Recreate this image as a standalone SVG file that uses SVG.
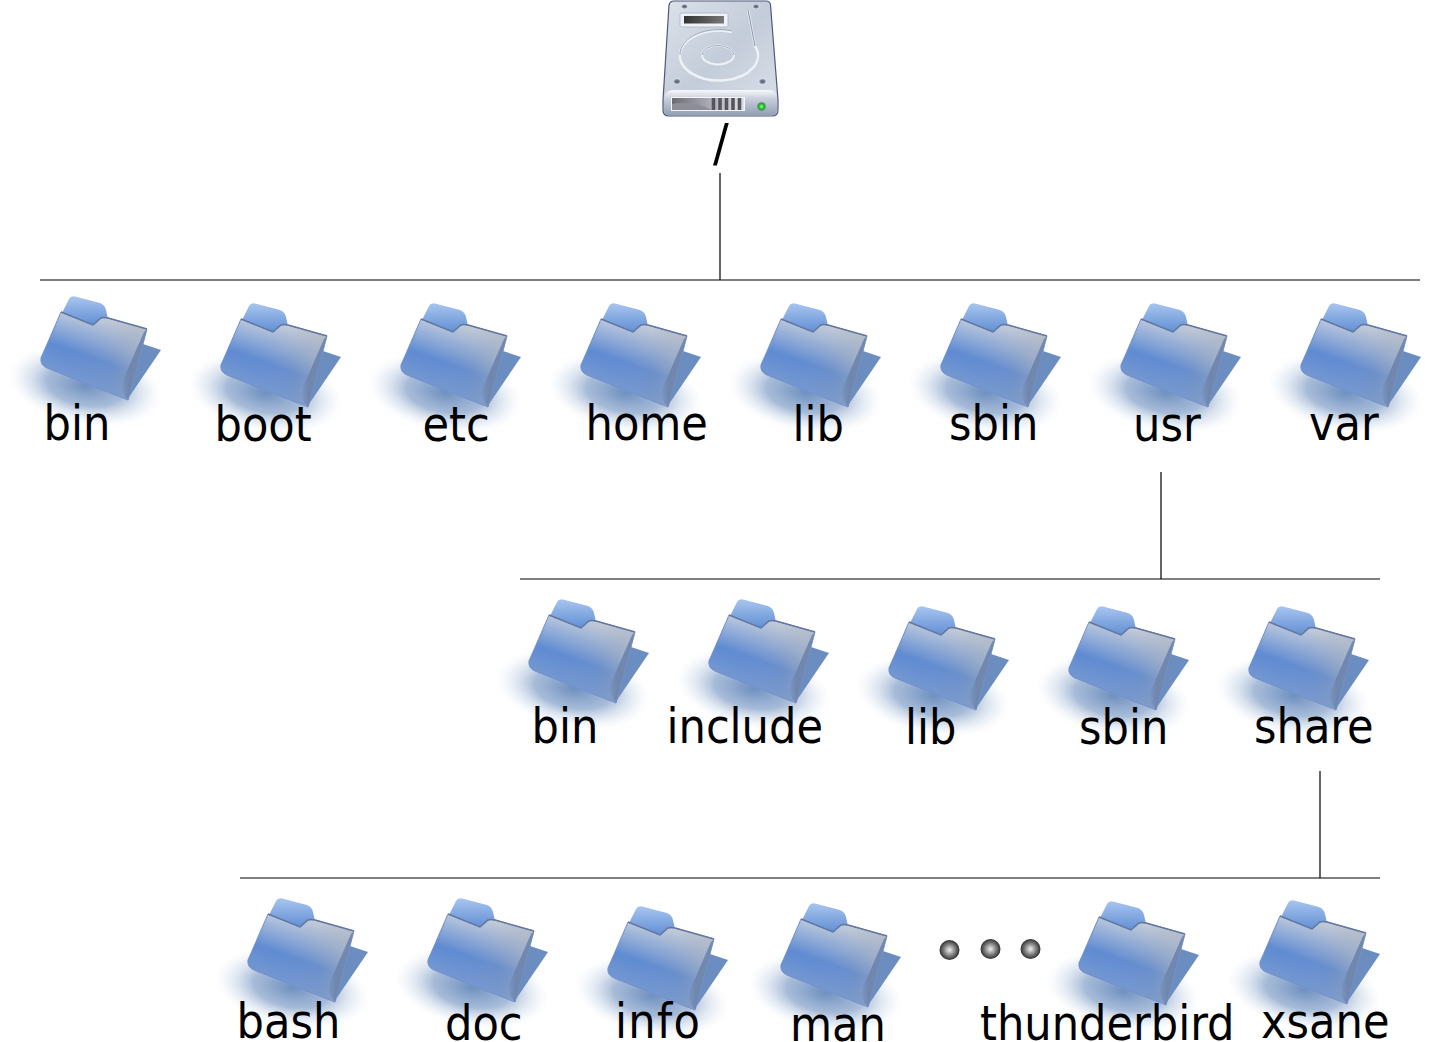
<svg xmlns="http://www.w3.org/2000/svg" xmlns:xlink="http://www.w3.org/1999/xlink" width="1433" height="1042" viewBox="0 0 1433 1042">
<style>
.lbl{font-family:"DejaVu Sans Condensed","DejaVu Sans",sans-serif;font-stretch:condensed;font-size:48px;fill:#000}
.ln{stroke:#000;stroke-width:1.200;fill:none}
</style>
<defs>
<radialGradient id="sh"><stop offset="0" stop-color="#6f90c0" stop-opacity="1"/><stop offset=".5" stop-color="#8aa5cb" stop-opacity=".75"/><stop offset=".78" stop-color="#bccce2" stop-opacity=".35"/><stop offset="1" stop-color="#dde6f1" stop-opacity="0"/></radialGradient>
<linearGradient id="tab" x1="0" y1="0" x2="0" y2="1"><stop offset="0" stop-color="#a8c5ef"/><stop offset="1" stop-color="#5f8dd4"/></linearGradient>
<linearGradient id="front" gradientUnits="userSpaceOnUse" x1="114" y1="320" x2="88" y2="394"><stop offset="0" stop-color="#d6dae0"/><stop offset=".55" stop-color="#5f8bd2"/><stop offset="1" stop-color="#7d9ccf"/></linearGradient>
<linearGradient id="rgt" gradientUnits="userSpaceOnUse" x1="60" y1="0" x2="147" y2="0"><stop offset="0" stop-color="#6b93d6" stop-opacity="0"/><stop offset=".6" stop-color="#8d9db8" stop-opacity=".25"/><stop offset="1" stop-color="#a8b2c2" stop-opacity=".75"/></linearGradient>
<linearGradient id="fold" gradientUnits="userSpaceOnUse" x1="118" y1="0" x2="140" y2="0"><stop offset="0" stop-color="#6f8cba" stop-opacity="0"/><stop offset=".5" stop-color="#6f86ad"/><stop offset="1" stop-color="#7189b0"/></linearGradient>
<linearGradient id="disk" x1="0" y1="0" x2="1" y2="1"><stop offset="0" stop-color="#dde2ea"/><stop offset=".5" stop-color="#c3ccd9"/><stop offset="1" stop-color="#dde2ea"/></linearGradient>
<linearGradient id="band" x1="0" y1="0" x2="0" y2="1"><stop offset="0" stop-color="#f6f8fb"/><stop offset=".35" stop-color="#c8cfdb"/><stop offset="1" stop-color="#949fb5"/></linearGradient>
<linearGradient id="scr" x1="0" y1="0" x2="1" y2="0"><stop offset="0" stop-color="#6b6b70"/><stop offset=".6" stop-color="#b5b5c2"/><stop offset="1" stop-color="#e0e0e8"/></linearGradient>
<linearGradient id="lab" x1="0" y1="0" x2="1" y2="0"><stop offset="0" stop-color="#333"/><stop offset="1" stop-color="#777"/></linearGradient>
<radialGradient id="dot"><stop offset="0" stop-color="#f0f0f0"/><stop offset=".6" stop-color="#7a7a7a"/><stop offset="1" stop-color="#2e2e2e"/></radialGradient>
<radialGradient id="led"><stop offset="0" stop-color="#a5f5a5"/><stop offset=".55" stop-color="#22d022"/><stop offset="1" stop-color="#0b7f1a"/></radialGradient>
<radialGradient id="screw"><stop offset="0" stop-color="#555c6c"/><stop offset=".6" stop-color="#7e8798"/><stop offset="1" stop-color="#e5e9f0"/></radialGradient>
<g id="folder">
<ellipse cx="85" cy="386" rx="78" ry="39" transform="rotate(10 85 386)" fill="url(#sh)"/>
<path d="M143 344L161 350L127 400L118 390Z" fill="#6b8dbf"/>
<path d="M62 313L69 299Q71 295 77 297L100 303Q105 305 106 310L108 319L90 326Z" fill="url(#tab)"/>
<path d="M61 312L93 325L101 318Q103 317 108 318L147 329L128 400L47 368Q40 365 41 358Z" fill="url(#front)" stroke="#6f8fd0" stroke-width="1"/>
<path d="M61 312L93 325L101 318Q103 317 108 318L147 329L128 400L47 368Q40 365 41 358Z" fill="url(#rgt)"/>
<path d="M147 329L128 400Q120 392 123 380L144 332Z" fill="url(#fold)"/>
<path d="M61 312L93 325L101 318Q103 317 108 318L147 329" fill="none" stroke="#64789f" stroke-width="1.500"/>
</g>
</defs>
<rect width="1433" height="1042" fill="#fff"/>
<g id="connectors">
<path class="ln" d="M720 173V280M40 280H1420M1161 472V579M520 579H1380M1320 771V878M240 878H1380"/>
</g>
<g id="root">
<path d="M669 5Q670 1 674 1H766Q770 1 770.500 5L778 100V110Q778 116 772 116H669Q663 116 663 110V100Z" fill="url(#disk)" stroke="#4e5878" stroke-width="1.200"/>
<path d="M664 100Q664.500 90 672 90H770Q776.500 90 777 100V110Q777 115 772 115H669Q664 115 664 110Z" fill="url(#band)"/>
<rect x="671" y="97" width="74" height="14" fill="#f5f6f8"/>
<rect x="672" y="98" width="72" height="12" fill="url(#scr)"/>
<path d="M672 104Q690 100 712 110H672Z" fill="#8d8d95"/>
<path d="M713.500 98v12M720 98v12M726.500 98v12M733 98v12M739.500 98v12" stroke="#55555b" stroke-width="3.600" fill="none"/>
<circle cx="761.500" cy="106.500" r="4" fill="url(#led)" stroke="#8c94a5" stroke-width=".8"/>
<rect x="680" y="13" width="48" height="14" rx="1.500" fill="#eef1f5" stroke="#aab3c4" stroke-width=".8"/>
<rect x="684" y="16" width="40" height="7.500" fill="url(#lab)"/>
<path d="M732 32A39 25 0 1 0 755 46L748 10" fill="none" stroke="#eef1f6" stroke-width="2.500"/>
<path d="M732 31A39 25 0 0 0 680 55" fill="none" stroke="#929db2" stroke-width=".9"/>
<path d="M755 46L748 10" fill="none" stroke="#929db2" stroke-width="1.200"/>
<ellipse cx="718" cy="55" rx="16" ry="9.500" fill="none" stroke="#eef1f6" stroke-width="2"/>
<path d="M702 55A16 9.500 0 0 1 734 55" fill="none" stroke="#8f9bb0" stroke-width=".8"/>
<ellipse cx="684.500" cy="6.500" rx="3.500" ry="2.500" fill="url(#screw)"/>
<ellipse cx="756" cy="6.500" rx="3.500" ry="2.500" fill="url(#screw)"/>
<ellipse cx="677" cy="81.500" rx="4" ry="3" fill="url(#screw)"/>
<ellipse cx="762.500" cy="81.500" rx="4" ry="3" fill="url(#screw)"/>
<text class="lbl" x="713" y="161" style="font-size:52px">/</text>
</g>
<g id="n-bin"><use href="#folder"/><text class="lbl" x="43.500" y="440">bin</text></g>
<g id="n-boot"><use href="#folder" x="180" y="7"/><text class="lbl" x="214.500" y="441">boot</text></g>
<g id="n-etc"><use href="#folder" x="360" y="7"/><text class="lbl" x="422.500" y="441">etc</text></g>
<g id="n-home"><use href="#folder" x="540" y="7"/><text class="lbl" x="585.500" y="440">home</text></g>
<g id="n-lib"><use href="#folder" x="720" y="7"/><text class="lbl" x="792.500" y="441">lib</text></g>
<g id="n-sbin"><use href="#folder" x="900" y="7"/><text class="lbl" x="949" y="440">sbin</text></g>
<g id="n-usr"><use href="#folder" x="1080" y="7"/><text class="lbl" x="1133" y="441">usr</text></g>
<g id="n-var"><use href="#folder" x="1260" y="7"/><text class="lbl" x="1309" y="439.500">var</text></g>
<g id="n-usr-bin"><use href="#folder" x="488" y="303"/><text class="lbl" x="531.500" y="743">bin</text></g>
<g id="n-usr-include"><use href="#folder" x="668" y="303"/><text class="lbl" x="666.500" y="743">include</text></g>
<g id="n-usr-lib"><use href="#folder" x="848" y="310"/><text class="lbl" x="905" y="744">lib</text></g>
<g id="n-usr-sbin"><use href="#folder" x="1028" y="310"/><text class="lbl" x="1079" y="744">sbin</text></g>
<g id="n-usr-share"><use href="#folder" x="1208" y="310"/><text class="lbl" x="1254" y="743">share</text></g>
<g id="n-bash"><use href="#folder" x="207" y="602"/><text class="lbl" x="236.500" y="1038">bash</text></g>
<g id="n-doc"><use href="#folder" x="387" y="602"/><text class="lbl" x="445" y="1039.500">doc</text></g>
<g id="n-info"><use href="#folder" x="567" y="610"/><text class="lbl" x="615" y="1038" style="font-kerning:none" letter-spacing="1.300">info</text></g>
<g id="n-man"><use href="#folder" x="740" y="607"/><text class="lbl" x="790" y="1040.500">man</text></g>
<g id="n-ellipsis">
<circle cx="949.500" cy="950" r="10" fill="url(#dot)"/><circle cx="990.500" cy="949" r="10" fill="url(#dot)"/><circle cx="1030.500" cy="949" r="10" fill="url(#dot)"/>
</g>
<g id="n-thunderbird"><use href="#folder" x="1038" y="605"/><text class="lbl" x="980" y="1039.500">thunderbird</text></g>
<g id="n-xsane"><use href="#folder" x="1219" y="604"/><text class="lbl" x="1261" y="1037.500">xsane</text></g>
</svg>
